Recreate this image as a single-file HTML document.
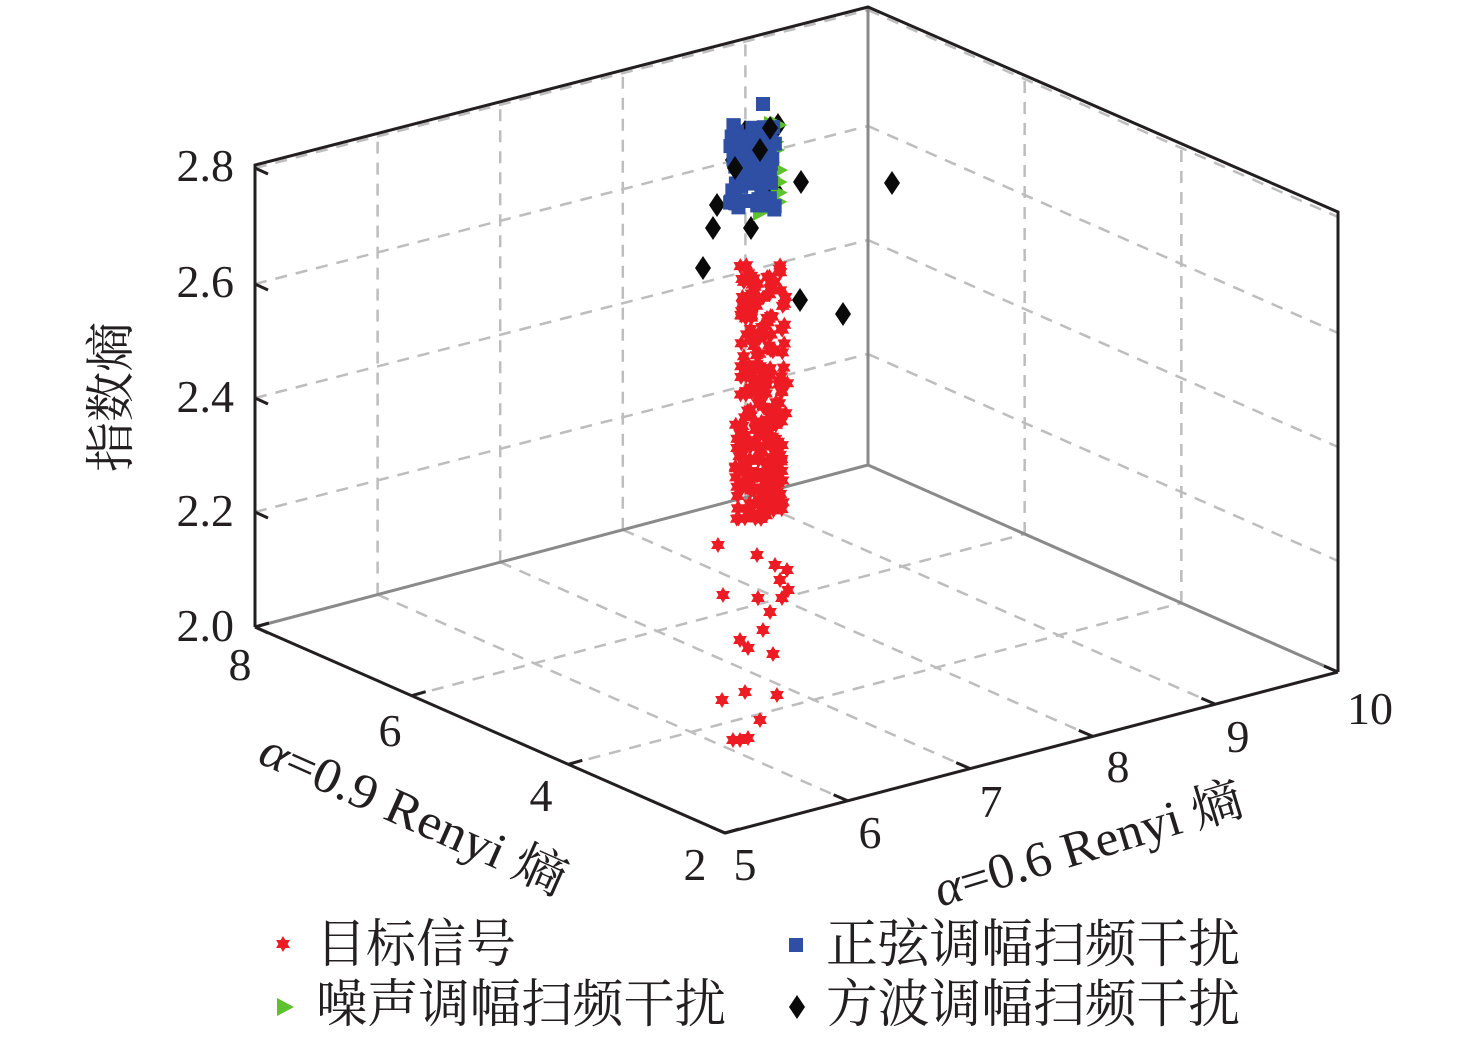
<!DOCTYPE html>
<html><head><meta charset="utf-8"><style>
html,body{margin:0;padding:0;background:#fff;}
svg{display:block;}
text{font-family:"Liberation Serif","Noto Serif CJK SC",serif;fill:#231f20;}
</style></head><body>
<svg id="s" width="1476" height="1043" viewBox="0 0 1476 1043" xmlns="http://www.w3.org/2000/svg">
<g id="grid" stroke="#bdbdbd" stroke-width="2.5" stroke-dasharray="12,9" fill="none"></g>
<g stroke="#8a8a8a" stroke-width="3" fill="none">
<line x1="868" y1="7" x2="868" y2="465"/>
<line x1="255" y1="627" x2="868" y2="465"/>
<line x1="868" y1="465" x2="1338" y2="672"/>
</g>
<g id="pts"></g>
<g stroke="#231f20" stroke-width="3" fill="none" stroke-linejoin="miter">
<polyline points="255,627 255,165 868,7 1338,212 1338,672"/>
<polyline points="255,627 725,833 1338,672"/>
</g>
<g id="ticks" stroke="#231f20" stroke-width="3"></g>
<g font-size="46" text-anchor="end">
<text x="234" y="181">2.8</text>
<text x="234" y="297">2.6</text>
<text x="234" y="412">2.4</text>
<text x="234" y="526">2.2</text>
<text x="234" y="641">2.0</text>
</g>
<g font-size="46" text-anchor="middle">
<text x="240" y="680">8</text>
<text x="390" y="746">6</text>
<text x="541" y="811">4</text>
<text x="695" y="880">2</text>
<text x="745" y="880">5</text>
<text x="870" y="848">6</text>
<text x="991" y="817">7</text>
<text x="1118" y="782">8</text>
<text x="1238" y="752">9</text>
<text x="1370" y="724">10</text>
</g>
<text font-size="50" transform="translate(128,472) rotate(-90)" textLength="150" lengthAdjust="spacingAndGlyphs">指数熵</text>
<text font-size="50" transform="translate(256,762) rotate(24)" textLength="330" lengthAdjust="spacingAndGlyphs"><tspan font-style="italic">α</tspan>=0.9 Renyi 熵</text>
<text font-size="50" transform="translate(940,907) rotate(-17)" textLength="320" lengthAdjust="spacingAndGlyphs"><tspan font-style="italic">α</tspan>=0.6 Renyi 熵</text>
<g font-size="52">
<text x="316" y="962" textLength="200" lengthAdjust="spacingAndGlyphs">目标信号</text>
<text x="316" y="1022" textLength="410" lengthAdjust="spacingAndGlyphs">噪声调幅扫频干扰</text>
<text x="826" y="962" textLength="414" lengthAdjust="spacingAndGlyphs">正弦调幅扫频干扰</text>
<text x="826" y="1022" textLength="414" lengthAdjust="spacingAndGlyphs">方波调幅扫频干扰</text>
</g>
</svg>
<script>
var NS="http://www.w3.org/2000/svg";
function el(p,t,a){var e=document.createElementNS(NS,t);for(var k in a)e.setAttribute(k,a[k]);p.appendChild(e);return e;}
var g=document.getElementById('grid');
var zs=[512,398,284,168];
zs.forEach(function(y){el(g,'line',{x1:255,y1:y,x2:868,y2:y-158});el(g,'line',{x1:868,y1:y-158,x2:1338,y2:y-158+207});});
for(var i=1;i<5;i++){var x=255+613*i/5,yb=627-162*i/5,yt=165-158*i/5;el(g,'line',{x1:x,y1:yb,x2:x,y2:yt});}
for(var i=1;i<3;i++){var x=868+470*i/3,yb=465+207*i/3,yt=7+205*i/3;el(g,'line',{x1:x,y1:yb,x2:x,y2:yt});}
for(var i=1;i<5;i++){var t=i/5;el(g,'line',{x1:255+613*t,y1:627-162*t,x2:725+613*t,y2:833-161*t});}
for(var i=1;i<3;i++){var t=i/3;el(g,'line',{x1:255+470*t,y1:627+206*t,x2:868+470*t,y2:465+207*t});}
var tk=document.getElementById('ticks');
for(var i=0;i<=5;i++){var t=i/5,x=725+613*t,y=833-161*t;el(tk,'line',{x1:x,y1:y,x2:x-14,y2:y-6});}
for(var i=0;i<=3;i++){var t=i/3,x=255+470*t,y=627+206*t;el(tk,'line',{x1:x,y1:y,x2:x+14,y2:y-4});}
[627,512,398,284,168].forEach(function(y){el(tk,'line',{x1:255,y1:y,x2:268,y2:y+6});});
var P=document.getElementById('pts');
var seed=7;function r(){seed=(seed*16807)%2147483647;return seed/2147483647;}
function star(x,y){var s=8,pts=[];for(var k=0;k<12;k++){var a=Math.PI/6*k-Math.PI/2,rr=k%2?s*0.58:s;pts.push((x+rr*Math.cos(a)).toFixed(1)+','+(y+rr*Math.sin(a)).toFixed(1));}el(P,'polygon',{points:pts.join(' '),fill:'#ed1c24'});}
function sq(x,y){el(P,'rect',{x:x-7,y:y-7,width:14,height:14,fill:'#2e4fa3'});}
function tri(x,y){el(P,'polygon',{points:(x-7)+','+(y-9)+' '+(x+10)+','+y+' '+(x-7)+','+(y+9),fill:'#5cc22e'});}
function dia(x,y){el(P,'polygon',{points:x+','+(y-12)+' '+(x+8)+','+y+' '+x+','+(y+12)+' '+(x-8)+','+y,fill:'#0a0a0a'});}
var dd=[[892,183],[801,182],[775,190],[717,205],[713,228],[751,228],[703,268],[800,300],[843,314],[778,125],[770,145],[740,168],[733,160],[752,150],[745,132]];
for(var i=0;i<5;i++)dd.push([735+r()*40,130+r()*40]);
dd.forEach(function(p){dia(p[0],p[1]);});
for(var i=0;i<25;i++){tri(750+r()*30,120+r()*90);}
tri(760,212);
for(var i=0;i<80;i++){sq(730+r()*45,125+r()*85);}
sq(763,104);
[[760,150],[735,168],[770,128]].forEach(function(p){dia(p[0],p[1]);});
for(var i=0;i<240;i++){var y=265+r()*255;var cx=765+(y>420?-5:0);star(cx-25+r()*48,y);}
for(var i=0;i<20;i++){star(740+r()*40,460+r()*45);}
[[737,448],[718,545],[757,555],[775,565],[787,570],[780,580],[788,590],[723,595],[758,598],[782,598],[770,612],[763,630],[740,640],[748,648],[773,654],[745,692],[722,700],[777,695],[760,720],[740,740],[748,738],[733,740]].forEach(function(p){star(p[0],p[1]);});
star(283,944);sq(796,945);tri(284,1007);dia(797,1007);
</script>
</body></html>
